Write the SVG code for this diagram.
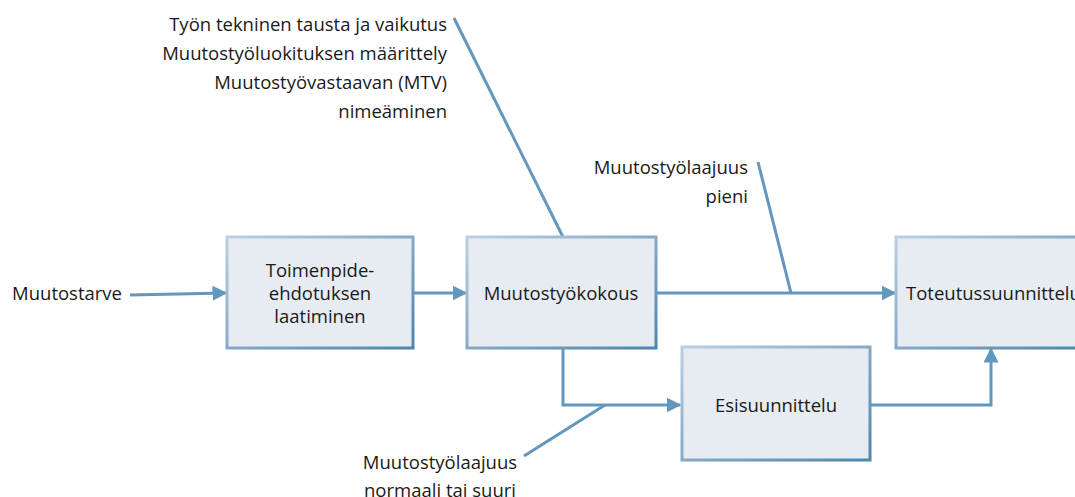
<svg xmlns="http://www.w3.org/2000/svg" width="1075" height="497" viewBox="0 0 1075 497">
<style>
text{font-family:"Open Sans","Liberation Sans",sans-serif;font-size:18.5px;fill:#1a1a1a}
.box{fill:#e7ebf2;stroke:url(#g);stroke-width:3}
.c{fill:none;stroke:#6397bd;stroke-width:3}
</style>
<defs>
<linearGradient id="g" x1="0" y1="0" x2="1" y2="1">
<stop offset="0" stop-color="#bccfe0"/>
<stop offset="1" stop-color="#4f85ad"/>
</linearGradient>
<marker id="a" viewBox="0 0 10 10" refX="9" refY="5" markerWidth="5" markerHeight="5" orient="auto" markerUnits="strokeWidth">
<path d="M0,0L10,5L0,10z" fill="#6397bd"/>
</marker>
</defs>
<g id="connectors">
<path class="c" d="M130,295L226,293" marker-end="url(#a)"/>
<path class="c" d="M414,293L466,293" marker-end="url(#a)"/>
<path class="c" d="M657,293L895,293" marker-end="url(#a)"/>
<path class="c" d="M563,349V405H680" marker-end="url(#a)"/>
<path class="c" d="M871,405H991V349" marker-end="url(#a)"/>
<path class="c" d="M454,18L563,237"/>
<path class="c" d="M758,162L791,293"/>
<path class="c" d="M524,456L605,405"/>
</g>
<g id="n1"><rect class="box" x="227" y="237" width="186" height="111"/>
<text x="320" y="277" text-anchor="middle">Toimenpide-</text>
<text x="320" y="300" text-anchor="middle">ehdotuksen</text>
<text x="320" y="323" text-anchor="middle">laatiminen</text></g>
<g id="n2"><rect class="box" x="467" y="237" width="189" height="111"/>
<text x="561" y="300" text-anchor="middle">Muutostyökokous</text></g>
<g id="n3"><rect class="box" x="896" y="237" width="190" height="111"/>
<text x="906" y="300">Toteutussuunnittelu</text></g>
<g id="n4"><rect class="box" x="682" y="347" width="188" height="113"/>
<text x="776" y="412" text-anchor="middle">Esisuunnittelu</text></g>
<g id="labels">
<text x="122" y="300" text-anchor="end">Muutostarve</text>
<text x="447" y="31" text-anchor="end">Työn tekninen tausta ja vaikutus</text>
<text x="447" y="60" text-anchor="end">Muutostyöluokituksen määrittely</text>
<text x="447" y="89" text-anchor="end">Muutostyövastaavan (MTV)</text>
<text x="447" y="118" text-anchor="end">nimeäminen</text>
<text x="748" y="174" text-anchor="end">Muutostyölaajuus</text>
<text x="748" y="203" text-anchor="end">pieni</text>
<text x="440" y="469" text-anchor="middle">Muutostyölaajuus</text>
<text x="440" y="497" text-anchor="middle">normaali tai suuri</text>
</g>
</svg>
